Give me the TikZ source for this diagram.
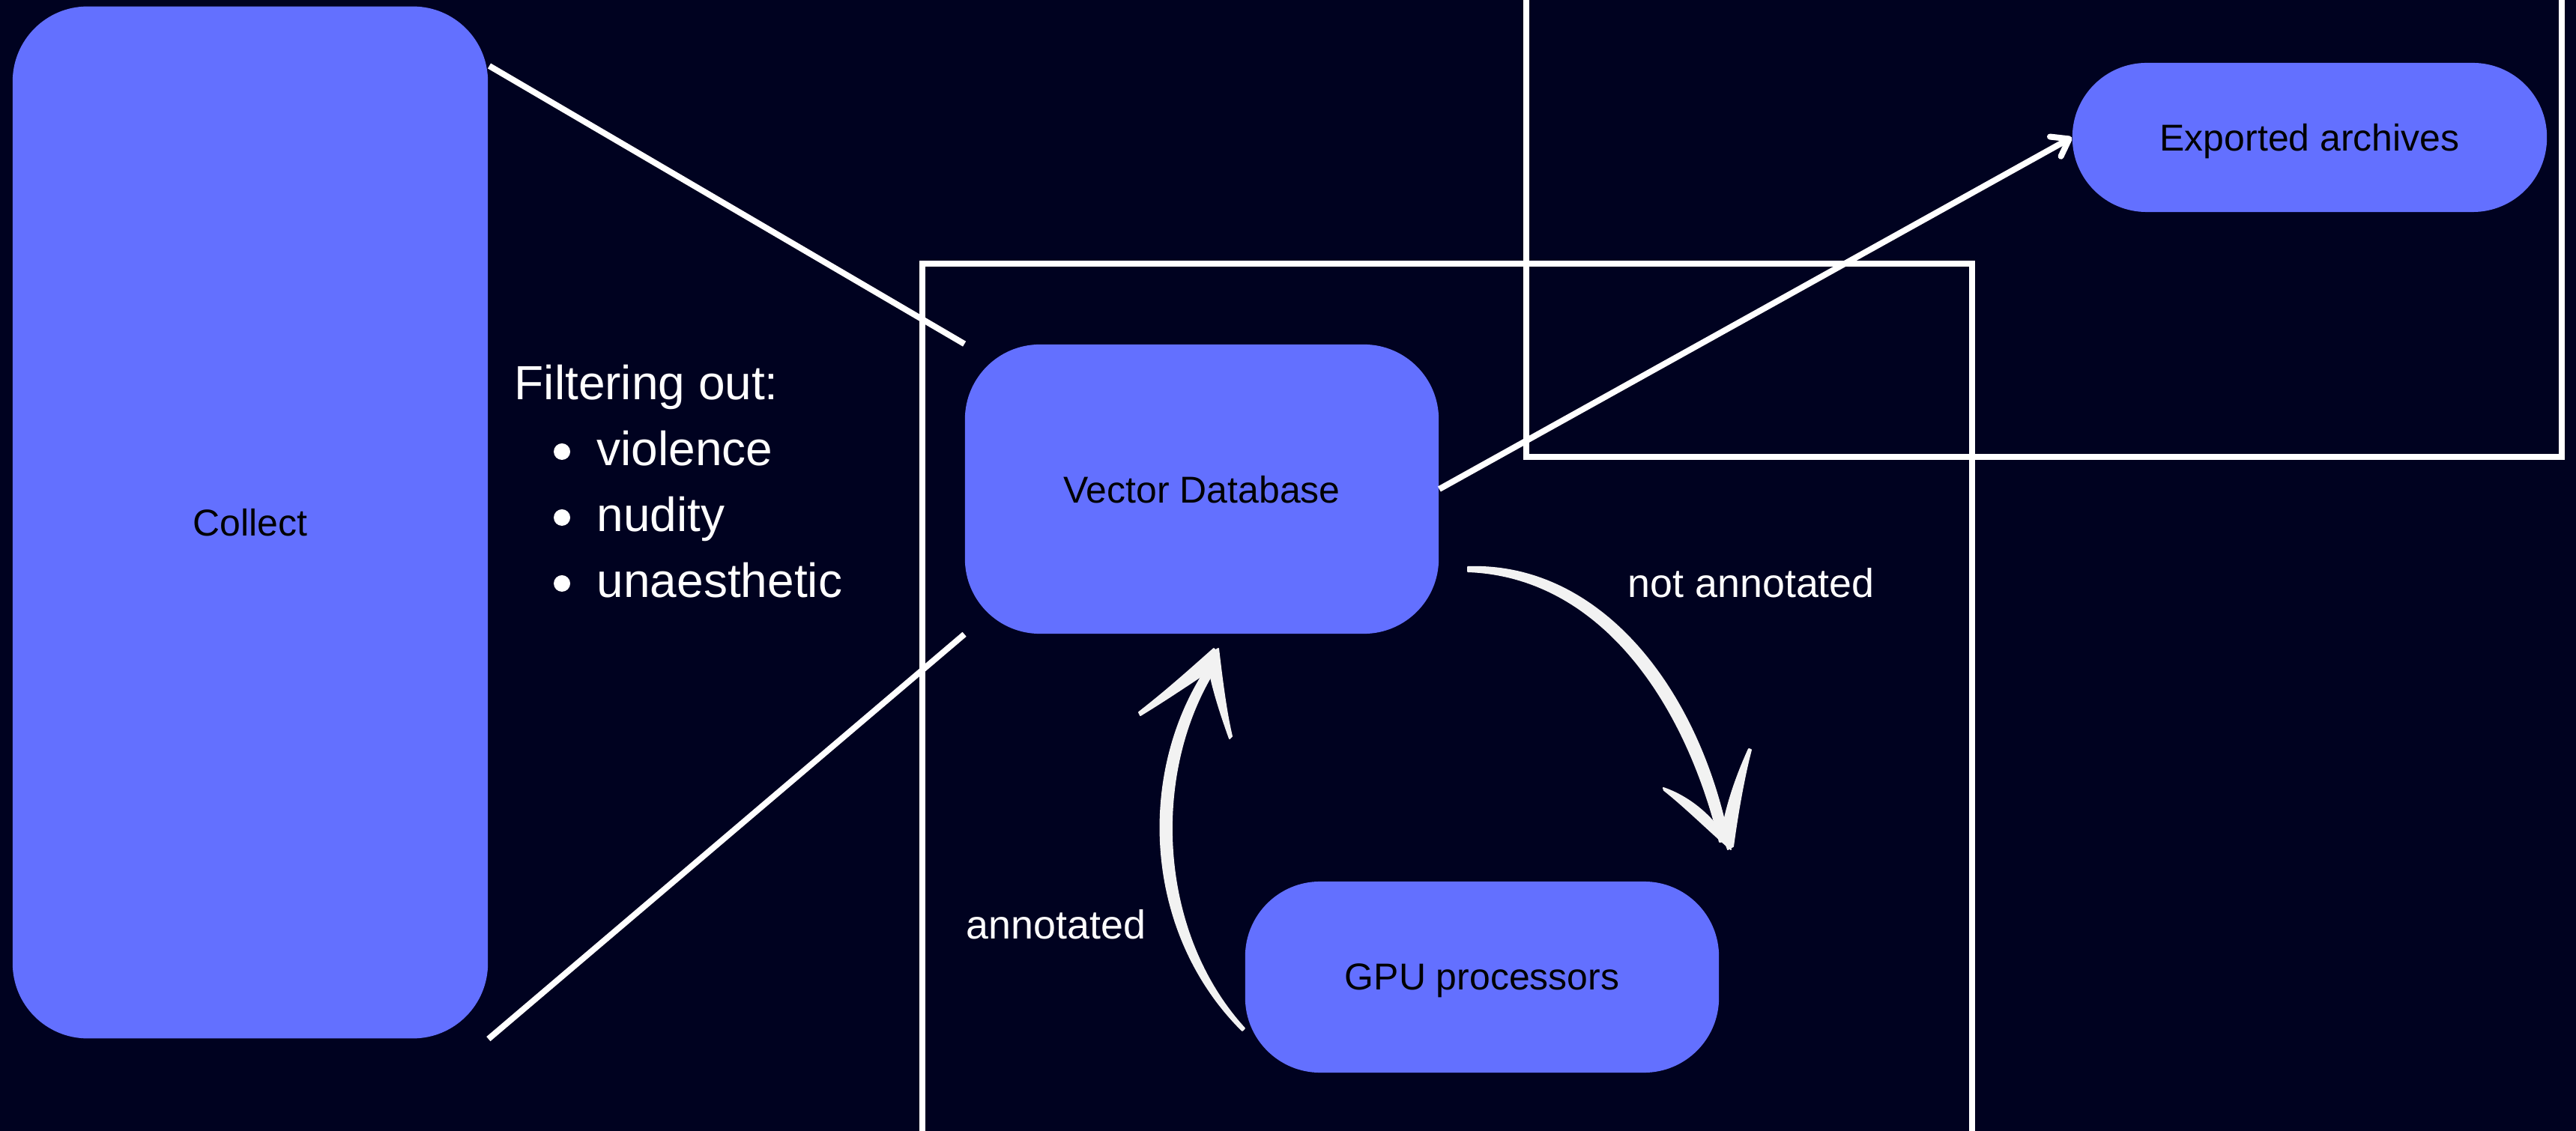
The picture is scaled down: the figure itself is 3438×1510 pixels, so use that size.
\documentclass[tikz,border=0pt]{standalone}
\usepackage{fontspec}
\setmainfont{Liberation Sans}
\usetikzlibrary{arrows.meta,calc}
\definecolor{bgnavy}{RGB}{0,2,32}
\definecolor{boxblue}{RGB}{99,112,255}
\definecolor{handgray}{RGB}{242,242,242}
\newcommand\fsbox{\fontsize{14.2pt}{17pt}\selectfont}
\newcommand\fslabel{\fontsize{15.3pt}{18pt}\selectfont}
\newcommand\fslist{\fontsize{18.2pt}{22pt}\selectfont}
\begin{document}
\begin{tikzpicture}[x=0.01cm,y=-0.01cm,
  blk/.style={rectangle, rounded corners=1cm, fill=boxblue, inner sep=0pt, text=black, font=\fsbox, text depth=0pt},
  frame/.style={draw=white, line width=0.08cm},
  link/.style={draw=white, line width=0.08cm},
  hand/.style={fill=handgray, draw=handgray, line width=0.02cm, line join=round},
  lbl/.style={text=white, font=\fslabel, inner sep=0pt, anchor=base west},
  lst/.style={text=white, font=\fslist, inner sep=0pt, anchor=base west},
  dot/.style={circle, fill=white, inner sep=0pt, minimum size=0.22cm}]
\useasboundingbox (0,0) rectangle (3438,1510);
\fill[bgnavy] (0,0) rectangle (3438,1510);

% frames
\draw[frame] (1231,352) rectangle (2632,1514);
\draw[frame] (2037,-30) rectangle (3419,610);

% boxes
\node[blk, minimum width=6.34cm, minimum height=13.77cm] (collect) at (334,697.5) {Collect};
\node[blk, minimum width=6.32cm, minimum height=3.86cm] (vdb) at (1604,653) {Vector Database};
\node[blk, minimum width=6.32cm, minimum height=2.55cm] (gpu) at (1978,1304.5) {GPU processors};
\node[blk, rounded corners=0.99cm, minimum width=6.33cm, minimum height=1.99cm] (exp) at (3082.5,183.5) {Exported archives};

% straight connectors
\coordinate (c1) at (653,88);
\draw[link] (c1) -- (vdb.north west);
\draw[link] (collect.south east) -- (vdb.south west);
\draw[link, -{Straight Barb[length=0.21cm,width=0.30cm,line cap=round,line join=round]}] (vdb.east) -- (exp.west);

% filtering list
\node[lst] (filt) at (686,534) {Filtering out:};
\node[dot] (b1) at (750,603) {};
\node[dot] (b2) at (750,691) {};
\node[dot] (b3) at (750,779) {};
\node[lst] (i1) at (796,622) {violence};
\node[lst] (i2) at (796,710) {nudity};
\node[lst] (i3) at (796,798) {unaesthetic};

% labels
\node[lbl] (notann) at (2172,798) {not annotated};
\node[lbl] (ann) at (1289,1254) {annotated};

% hand-drawn arrow: not annotated
\filldraw[hand] (1959,757) .. controls (2132,751) and (2265,914) .. (2307,1122) -- (2295,1124) .. controls (2246,924) and (2128,769) .. (1959,763) -- cycle;
\filldraw[hand] (2220,1052) .. controls (2255,1064) and (2285,1090) .. (2302,1118) -- (2310,1134) .. controls (2280,1108) and (2250,1078) .. (2221,1055) -- cycle;
\filldraw[hand] (2334,1000) .. controls (2318,1035) and (2304,1075) .. (2298,1112) -- (2306,1134) -- (2313,1130) .. controls (2319,1085) and (2328,1035) .. (2337,1001) -- cycle;

% hand-drawn arrow: annotated
\filldraw[hand] (1658,1376) .. controls (1526,1245) and (1516,1030) .. (1614,887) -- (1624,890) .. controls (1534,1030) and (1544,1245) .. (1661,1373) -- cycle;
\filldraw[hand] (1520,951) .. controls (1560,920) and (1595,888) .. (1620,866) -- (1626,872) -- (1607,900) .. controls (1580,918) and (1550,938) .. (1522,955) -- cycle;
\filldraw[hand] (1641,986) .. controls (1630,955) and (1620,925) .. (1614,895) -- (1616,872) -- (1626,866) .. controls (1630,900) and (1636,950) .. (1644,983) -- cycle;
\end{tikzpicture}
\end{document}
